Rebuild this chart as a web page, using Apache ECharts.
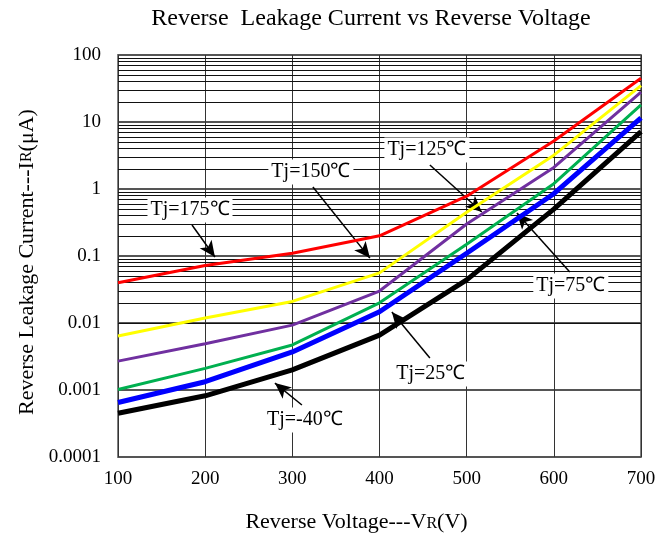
<!DOCTYPE html>
<html><head><meta charset="utf-8">
<script src="https://cdn.jsdelivr.net/npm/echarts@6/dist/echarts.min.js"></script>
<style>html,body{margin:0;padding:0;background:#fff}#c{width:672px;height:540px}</style>
</head><body><div id="c"></div>
<script>
const voltages = [100, 200, 300, 400, 500, 600, 700];
const tj175 = [0.040, 0.072, 0.11, 0.20, 0.78, 5.2, 45];
const tj150 = [0.0064, 0.0119, 0.021, 0.056, 0.45, 3.2, 35];
const tj125 = [0.0027, 0.0049, 0.0093, 0.030, 0.30, 2.1, 28];
const tj100 = [0.00102, 0.0021, 0.0047, 0.020, 0.15, 1.2, 18];
const tj75  = [0.00065, 0.00133, 0.0037, 0.0147, 0.11, 0.85, 11.5];
const tjm25 = [0.00045, 0.00082, 0.0020, 0.0066, 0.044, 0.5, 7.2];
const yTickLabels = {'-4':'0.0001','-3':'0.001','-2':'0.01','-1':'0.1','0':'1','1':'10','2':'100'};
const minorGrid = [0.0002,0.0003,0.0004,0.0005,0.0006,0.0007,0.0008,0.0009,
  0.002,0.003,0.004,0.005,0.006,0.007,0.008,0.009,
  0.02,0.03,0.04,0.05,0.06,0.07,0.08,0.09,
  0.2,0.3,0.4,0.5,0.6,0.7,0.8,0.9,
  2,3,4,5,6,7,8,9, 20,30,40,50,60,70,80,90];
const annLabels = [
  ['Tj=175℃', 182.6, 0.486],
  ['Tj=150℃', 321.3, 1.8],
  ['Tj=125℃', 454.4, 3.82],
  ['Tj=75℃', 619.5, 0.0356],
  ['Tj=25℃', 458.9, 0.00173],
  ['Tj=-40℃', 314.4, 0.000356]
];
const annArrows = [
  [[184.9, 0.29], [211.2, 0.0966]],
  [[323.6, 1.07], [389, 0.093]],
  [[457.8, 2.28], [517.4, 0.454]],
  [[618.3, 0.0577], [557.6, 0.438]],
  [[457.8, 0.0030], [414.2, 0.0146]],
  [[311, 0.000597], [280, 0.00127]]
];

const FONT = 'Liberation Serif';
function mk(name, vals, color, w) {
  return { type: 'line', name, data: voltages.map((v, i) => [v, vals[i]]), showSymbol: false,
    lineStyle: { color, width: w }, itemStyle: { color }, z: 5, silent: true };
}
const chart = echarts.init(document.getElementById('c'));
chart.setOption({
  animation: false,
  backgroundColor: '#fff',
  title: { text: 'Reverse  Leakage Current vs Reverse Voltage', left: 366, top: 2, textAlign: 'center',
    textStyle: { fontFamily: FONT, fontSize: 24, fontWeight: 'normal', color: '#000' } },
  grid: { left: 118, right: 31, top: 55, bottom: 83, show: true, borderColor: '#808080', borderWidth: 2 },
  xAxis: { type: 'value', min: 100, max: 700, interval: 100,
    name: 'Reverse Voltage---V{s|R}(V)', nameLocation: 'middle', nameGap: 54,
    nameTextStyle: { fontFamily: FONT, fontSize: 22, color: '#000', padding: [0, 46, 0, 0],
      rich: { s: { fontFamily: FONT, fontSize: 16, color: '#000', padding:[3,0,0,0] } } },
    axisLine: { show: false }, axisTick: { show: false },
    axisLabel: { fontFamily: FONT, fontSize: 19, color: '#000', margin: 13 },
    splitLine: { show: true, lineStyle: { color: '#333', width: 1 } } },
  yAxis: { type: 'log', logBase: 10, min: 0.0001, max: 100,
    name: 'Reverse Leakage Current---I{s|R}(μA)', nameLocation: 'middle', nameGap: 80, nameRotate: 90,
    nameTextStyle: { fontFamily: FONT, fontSize: 22, color: '#000', padding: [0, 12, 0, 0],
      rich: { s: { fontFamily: FONT, fontSize: 16, color: '#000' } } },
    axisLine: { show: false }, axisTick: { show: false },
    axisLabel: { fontFamily: FONT, fontSize: 19, color: '#000', margin: 17,
      formatter: v => yTickLabels[String(Math.round(Math.log10(v)))] || '' },
    splitLine: { show: true, lineStyle: { color: '#555', width: 2 } } },
  series: [
    { type: 'line', data: [], silent: true, z: 1,
      markLine: { silent: true, symbol: 'none', animation: false, label: { show: false },
        lineStyle: { color: '#111', width: 1, type: 'solid' },
        data: minorGrid.map(v => ({ yAxis: v })) } },
    mk('Tj=175', tj175, '#FF0000', 3),
    mk('Tj=150', tj150, '#FFFF00', 3),
    mk('Tj=125', tj125, '#7030A0', 3),
    mk('Tj=100', tj100, '#00B050', 3),
    mk('Tj=75', tj75, '#0000FF', 5),
    mk('Tj=25', tjm25, '#000000', 5),
    { type: 'line', data: [], silent: true, z: 10,
      markLine: { silent: true, animation: false, symbol: ['none', 'arrow'], symbolSize: [11, 16],
        label: { show: false }, lineStyle: { color: '#000', width: 1.5, type: 'solid' },
        data: annArrows.map(a => [{ coord: a[0] }, { coord: a[1] }]) },
      markPoint: { silent: true, animation: false, symbol: 'rect', symbolSize: 1,
        itemStyle: { color: 'rgba(0,0,0,0)' },
        label: { show: true, position: 'inside', formatter: p => p.name, fontFamily: FONT, fontSize: 20,
          color: '#000', backgroundColor: '#fff', padding: [3, 3, 2, 3] },
        data: annLabels.map(l => ({ name: l[0], coord: [l[1], l[2]] })) } }
  ]
});
</script></body></html>
